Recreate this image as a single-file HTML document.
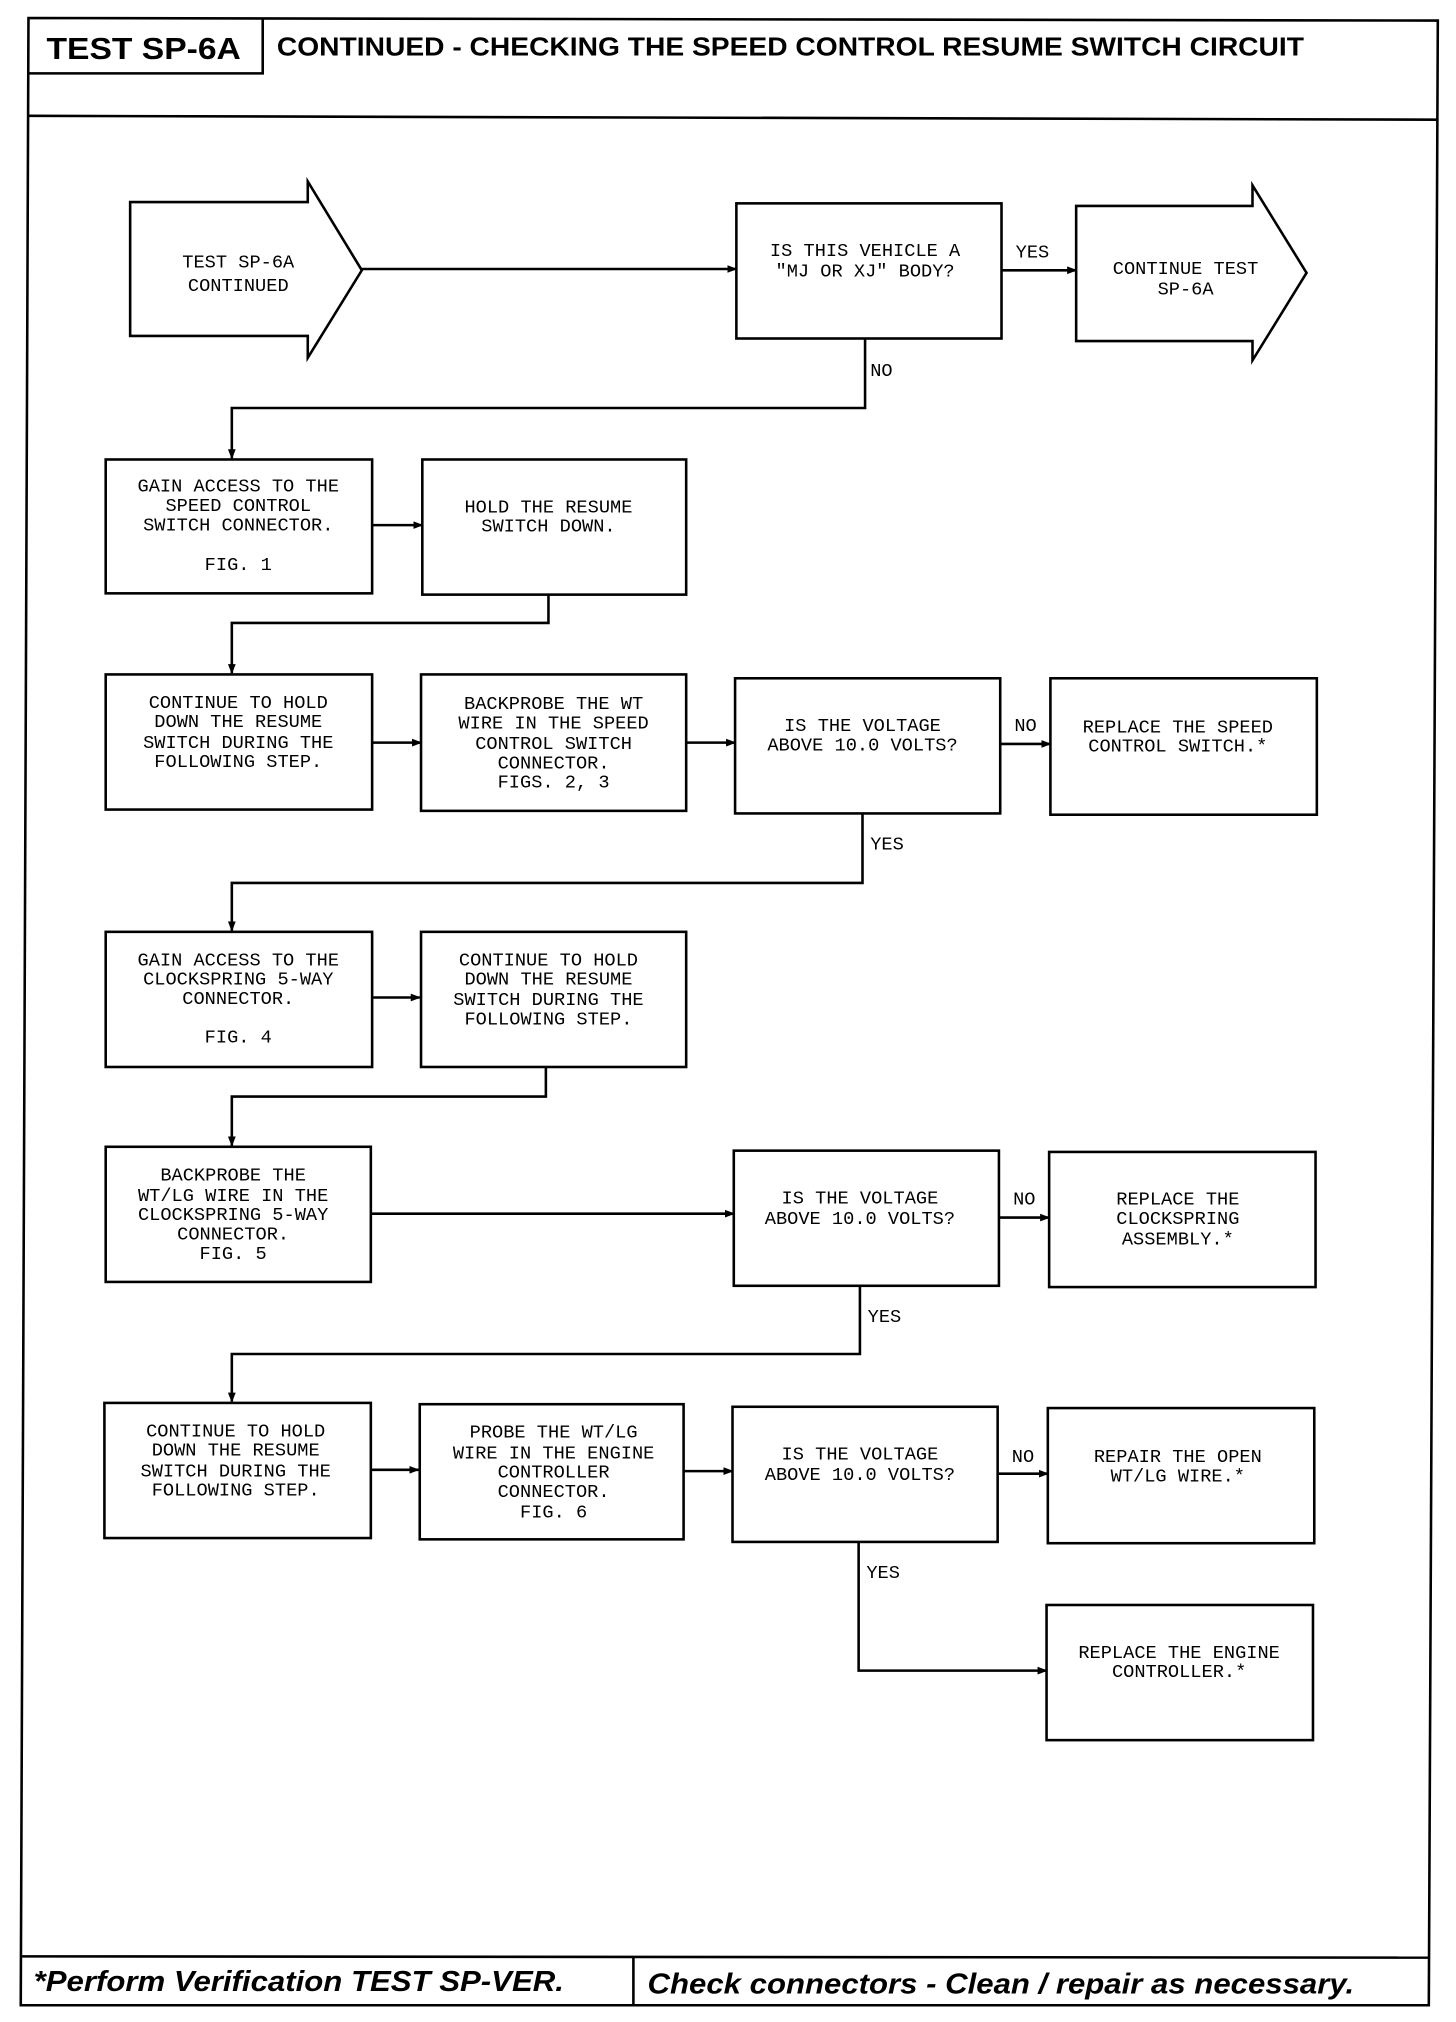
<!DOCTYPE html>
<html><head><meta charset="utf-8"><style>
html,body{margin:0;padding:0;background:#fff;}
svg{display:block;}
.t{font-family:"Liberation Mono",monospace;font-size:14.5px;text-anchor:middle;fill:#000;}
.l{font-family:"Liberation Mono",monospace;font-size:14.5px;fill:#000;}
</style></head><body>
<svg width="1456" height="2022" viewBox="0 0 1131 1571" xmlns="http://www.w3.org/2000/svg">
<defs><marker id="a" markerWidth="8" markerHeight="8" refX="7" refY="4" orient="auto" markerUnits="userSpaceOnUse"><path d="M0,1 L8,4 L0,7 Z" fill="#000"/></marker></defs>
<g fill="none" stroke="#000" stroke-width="2">
<path d="M22,14 L1117,16 L1110,1558 L16,1558 Z"/>
<line x1="22" y1="90" x2="1116" y2="93"/>
<path d="M22,57 L204,57 L204,14"/>
<line x1="17" y1="1520" x2="1110" y2="1521"/>
<line x1="492" y1="1521" x2="492" y2="1558"/>
<path d="M101,157 L239,157 L239,141 L281,210 L239,278 L239,261 L101,261 Z"/>
<path d="M836,160 L973,160 L973,144 L1015,212 L973,280 L973,265 L836,265 Z"/>
<line x1="281" y1="209" x2="572" y2="209" marker-end="url(#a)"/>
<rect x="572" y="158" width="206" height="105"/>
<line x1="778" y1="210" x2="836" y2="210" marker-end="url(#a)"/>
<polyline points="672,263 672,317 180,317 180,356" marker-end="url(#a)"/>
<rect x="82" y="357" width="207" height="104"/>
<line x1="289" y1="408" x2="328" y2="408" marker-end="url(#a)"/>
<rect x="328" y="357" width="205" height="105"/>
<polyline points="426,462 426,484 180,484 180,523" marker-end="url(#a)"/>
<rect x="82" y="524" width="207" height="105"/>
<line x1="289" y1="577" x2="327" y2="577" marker-end="url(#a)"/>
<rect x="327" y="524" width="206" height="106"/>
<line x1="533" y1="577" x2="571" y2="577" marker-end="url(#a)"/>
<rect x="571" y="527" width="206" height="105"/>
<line x1="777" y1="578" x2="816" y2="578" marker-end="url(#a)"/>
<rect x="816" y="527" width="207" height="106"/>
<polyline points="670,632 670,686 180,686 180,723" marker-end="url(#a)"/>
<rect x="82" y="724" width="207" height="105"/>
<line x1="289" y1="775" x2="326" y2="775" marker-end="url(#a)"/>
<rect x="327" y="724" width="206" height="105"/>
<polyline points="424,829 424,852 180,852 180,890" marker-end="url(#a)"/>
<rect x="82" y="891" width="206" height="105"/>
<line x1="288" y1="943" x2="570" y2="943" marker-end="url(#a)"/>
<rect x="570" y="894" width="206" height="105"/>
<line x1="776" y1="946" x2="815" y2="946" marker-end="url(#a)"/>
<rect x="815" y="895" width="207" height="105"/>
<polyline points="668,999 668,1052 180,1052 180,1089" marker-end="url(#a)"/>
<rect x="81" y="1090" width="207" height="105"/>
<line x1="288" y1="1142" x2="325" y2="1142" marker-end="url(#a)"/>
<rect x="326" y="1091" width="205" height="105"/>
<line x1="531" y1="1143" x2="569" y2="1143" marker-end="url(#a)"/>
<rect x="569" y="1093" width="206" height="105"/>
<line x1="775" y1="1145" x2="814" y2="1145" marker-end="url(#a)"/>
<rect x="814" y="1094" width="207" height="105"/>
<polyline points="667,1198 667,1298 813,1298" marker-end="url(#a)"/>
<rect x="813" y="1247" width="207" height="105"/>
</g>
<text x="36" y="46" textLength="151" lengthAdjust="spacingAndGlyphs" style="font-family:'Liberation Sans',sans-serif;font-weight:bold;font-size:24px">TEST SP-6A</text>
<text x="215" y="43" textLength="798" lengthAdjust="spacingAndGlyphs" style="font-family:'Liberation Sans',sans-serif;font-weight:bold;font-size:20px">CONTINUED - CHECKING THE SPEED CONTROL RESUME SWITCH CIRCUIT</text>
<text x="26" y="1547" textLength="412" lengthAdjust="spacingAndGlyphs" style="font-family:'Liberation Sans',sans-serif;font-weight:bold;font-style:italic;font-size:22px">*Perform Verification TEST SP-VER.</text>
<text x="503" y="1549" textLength="549" lengthAdjust="spacingAndGlyphs" style="font-family:'Liberation Sans',sans-serif;font-weight:bold;font-style:italic;font-size:22px">Check connectors - Clean / repair as necessary.</text>
<g class="t">
<text x="185" y="208">TEST SP-6A</text><text x="185" y="226">CONTINUED</text>
<text x="672" y="199">IS THIS VEHICLE A</text><text x="672" y="215">"MJ OR XJ" BODY?</text>
<text x="921" y="213">CONTINUE TEST</text><text x="921" y="229">SP-6A</text>
<text x="185" y="382">GAIN ACCESS TO THE</text><text x="185" y="397">SPEED CONTROL</text><text x="185" y="412">SWITCH CONNECTOR.</text><text x="185" y="443">FIG. 1</text>
<text x="426" y="398">HOLD THE RESUME</text><text x="426" y="413">SWITCH DOWN.</text>
<text x="185" y="550">CONTINUE TO HOLD</text><text x="185" y="565">DOWN THE RESUME</text><text x="185" y="581">SWITCH DURING THE</text><text x="185" y="596">FOLLOWING STEP.</text>
<text x="430" y="551">BACKPROBE THE WT</text><text x="430" y="566">WIRE IN THE SPEED</text><text x="430" y="582">CONTROL SWITCH</text><text x="430" y="597">CONNECTOR.</text><text x="430" y="612">FIGS. 2, 3</text>
<text x="670" y="568">IS THE VOLTAGE</text><text x="670" y="583">ABOVE 10.0 VOLTS?</text>
<text x="915" y="569">REPLACE THE SPEED</text><text x="915" y="584">CONTROL SWITCH.*</text>
<text x="185" y="750">GAIN ACCESS TO THE</text><text x="185" y="765">CLOCKSPRING 5-WAY</text><text x="185" y="780">CONNECTOR.</text><text x="185" y="810">FIG. 4</text>
<text x="426" y="750">CONTINUE TO HOLD</text><text x="426" y="765">DOWN THE RESUME</text><text x="426" y="781">SWITCH DURING THE</text><text x="426" y="796">FOLLOWING STEP.</text>
<text x="181" y="917">BACKPROBE THE</text><text x="181" y="933">WT/LG WIRE IN THE</text><text x="181" y="948">CLOCKSPRING 5-WAY</text><text x="181" y="963">CONNECTOR.</text><text x="181" y="978">FIG. 5</text>
<text x="668" y="935">IS THE VOLTAGE</text><text x="668" y="951">ABOVE 10.0 VOLTS?</text>
<text x="915" y="936">REPLACE THE</text><text x="915" y="951">CLOCKSPRING</text><text x="915" y="967">ASSEMBLY.*</text>
<text x="183" y="1116">CONTINUE TO HOLD</text><text x="183" y="1131">DOWN THE RESUME</text><text x="183" y="1147">SWITCH DURING THE</text><text x="183" y="1162">FOLLOWING STEP.</text>
<text x="430" y="1117">PROBE THE WT/LG</text><text x="430" y="1133">WIRE IN THE ENGINE</text><text x="430" y="1148">CONTROLLER</text><text x="430" y="1163">CONNECTOR.</text><text x="430" y="1179">FIG. 6</text>
<text x="668" y="1134">IS THE VOLTAGE</text><text x="668" y="1150">ABOVE 10.0 VOLTS?</text>
<text x="915" y="1136">REPAIR THE OPEN</text><text x="915" y="1151">WT/LG WIRE.*</text>
<text x="916" y="1288">REPLACE THE ENGINE</text><text x="916" y="1303">CONTROLLER.*</text>
</g>
<g class="l">
<text x="789" y="200">YES</text><text x="676" y="292">NO</text>
<text x="788" y="568">NO</text><text x="676" y="660">YES</text>
<text x="787" y="936">NO</text><text x="674" y="1027">YES</text>
<text x="786" y="1136">NO</text><text x="673" y="1226">YES</text>
</g>
</svg>
</body></html>
